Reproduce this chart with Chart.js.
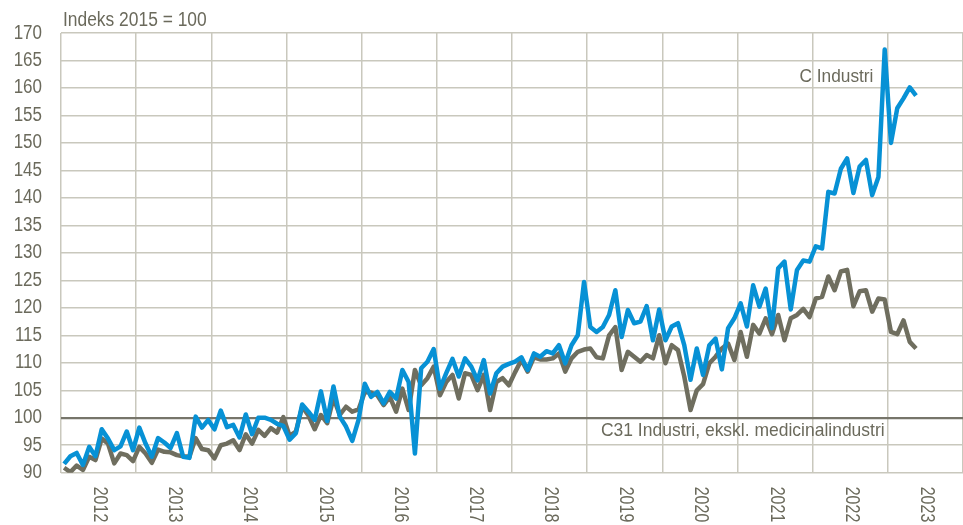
<!DOCTYPE html>
<html lang="da">
<head>
    <meta charset="UTF-8">
    <title>Indeks 2015 = 100</title>
    <style>
        html, body { margin: 0; padding: 0; background: #ffffff; }
        #chart { display: block; }
    </style>
</head>
<body>
    <canvas id="chart" width="963" height="525"></canvas>

    <script src="https://cdn.jsdelivr.net/npm/chart.js"></script>
    <script>
        // Months since Jan 2012 (one point per month)
        const years = ['2012', '2013', '2014', '2015', '2016', '2017', '2018', '2019', '2020', '2021', '2022', '2023'];
        const yTicks = [90, 95, 100, 105, 110, 115, 120, 125, 130, 135, 140, 145, 150, 155, 160, 165, 170];

        // C Industri
        const cIndustri = [
            91.6, 93.0, 93.6, 91.4, 94.7, 93.0, 97.9, 96.2, 94.1, 94.8, 97.5, 94.1,
            98.2, 95.3, 92.9, 96.3, 95.5, 94.5, 97.2, 92.9, 92.7, 100.2, 98.2, 99.6,
            97.9, 101.3, 98.3, 98.7, 96.4, 100.6, 97.0, 100.0, 100.0, 99.6, 98.9, 98.5,
            96.0, 97.2, 102.4, 101.1, 99.6, 104.8, 99.4, 105.7, 100.2, 98.4, 95.8, 99.6,
            106.2, 103.8, 104.7, 102.6, 104.7, 103.5, 108.7, 106.5, 93.5, 109.0, 110.2, 112.5,
            105.3, 108.1, 110.7, 107.5, 110.8, 109.3, 106.8, 110.5, 104.4, 108.1, 109.3, 109.8,
            110.2, 111.0, 108.7, 111.7, 111.1, 112.1, 111.7, 113.2, 109.9, 113.2, 115.0, 124.7,
            116.5, 115.6, 116.5, 118.7, 123.2, 114.7, 119.6, 117.2, 117.5, 120.3, 114.1, 119.7,
            114.1, 116.6, 117.2, 113.2, 106.9, 112.6, 107.8, 113.2, 114.4, 108.8, 116.3, 118.1,
            120.8, 116.6, 124.1, 120.2, 123.5, 116.3, 127.2, 128.4, 119.7, 126.9, 128.6, 128.4,
            131.2, 130.8, 141.1, 140.8, 145.3, 147.2, 140.9, 145.7, 146.9, 140.5, 143.8, 167.0,
            150.0, 156.3, 158.1, 160.1, 158.6
        ];

        // C31 Industri, ekskl. medicinalindustri
        const c31Industri = [
            90.9, 90.1, 91.3, 90.5, 92.9, 92.3, 96.2, 95.3, 91.7, 93.5, 93.2, 92.1,
            94.7, 93.5, 91.8, 94.2, 93.8, 93.7, 93.2, 93.0, 92.9, 96.3, 94.3, 94.1,
            92.6, 95.0, 95.3, 95.9, 94.1, 97.0, 95.3, 97.8, 96.7, 98.1, 97.3, 100.1,
            96.7, 97.5, 102.0, 100.4, 97.9, 100.5, 99.0, 103.6, 100.5, 102.0, 101.1, 101.5,
            104.7, 104.6, 104.1, 102.3, 103.8, 101.1, 105.3, 101.4, 108.7, 105.9, 107.2, 109.3,
            104.1, 106.5, 107.8, 103.5, 108.1, 107.8, 105.0, 107.8, 101.4, 106.5, 107.2, 105.9,
            108.3, 110.5, 108.4, 111.0, 110.6, 110.6, 110.8, 111.7, 108.4, 110.8, 112.0, 112.4,
            112.6, 111.0, 110.8, 115.0, 116.5, 108.7, 112.0, 111.1, 110.2, 111.4, 110.8, 115.0,
            109.9, 113.2, 112.3, 107.5, 101.4, 105.0, 106.1, 109.9, 111.1, 112.6, 113.5, 110.5,
            115.6, 111.1, 116.9, 115.3, 118.1, 115.2, 118.7, 114.1, 118.1, 118.7, 119.8, 118.3,
            121.7, 122.0, 125.7, 123.2, 126.6, 126.9, 120.3, 123.0, 123.2, 119.3, 121.7, 121.5,
            115.6, 115.2, 117.7, 113.8, 112.6
        ];

        const toPoints = arr => arr.map((v, i) => ({ x: i, y: v }));

        const FONT = '"Liberation Sans", Arial, sans-serif';
        const TEXT = '#6b6a5c';

        // narrow text: the original uses a condensed face
        function narrowText(ctx, text, x, y, opts) {
            ctx.save();
            ctx.translate(x, y);
            if (opts.rotate) ctx.rotate(opts.rotate);
            ctx.scale(opts.squeeze, 1);
            ctx.font = opts.size + 'px ' + FONT;
            ctx.textAlign = opts.align;
            ctx.textBaseline = opts.baseline;
            ctx.fillText(text, 0, 0);
            ctx.restore();
        }

        // axis labels, title and line labels
        const textPlugin = {
            id: 'texts',
            afterDraw(chart) {
                const ctx = chart.ctx;
                const x = chart.scales.x;
                const y = chart.scales.y;
                ctx.save();
                ctx.fillStyle = TEXT;

                // y ticks
                y.ticks.forEach(t => {
                    narrowText(ctx, String(t.value), chart.chartArea.left - 19, y.getPixelForValue(t.value),
                        { size: 20, squeeze: 0.85, align: 'right', baseline: 'middle' });
                });

                // years, rotated to read downwards
                years.forEach((yr, k) => {
                    const px = x.getPixelForValue(k * 12 + 5.5);
                    narrowText(ctx, yr, px + 1, chart.chartArea.bottom + 14,
                        { size: 20, squeeze: 0.8, align: 'left', baseline: 'middle', rotate: Math.PI / 2 });
                });

                // title
                narrowText(ctx, 'Indeks 2015 = 100', 63, 26,
                    { size: 20, squeeze: 0.87, align: 'left', baseline: 'alphabetic' });

                // series labels
                narrowText(ctx, 'C Industri', x.getPixelForValue(129.2), y.getPixelForValue(161.1),
                    { size: 19, squeeze: 0.91, align: 'right', baseline: 'alphabetic' });
                narrowText(ctx, 'C31 Industri, ekskl. medicinalindustri', x.getPixelForValue(85.7), y.getPixelForValue(96.7),
                    { size: 19, squeeze: 0.92, align: 'left', baseline: 'alphabetic' });
                ctx.restore();
            }
        };

        new Chart(document.getElementById('chart'), {
            type: 'line',
            data: {
                datasets: [{
                    label: 'C Industri',
                    data: toPoints(cIndustri),
                    borderColor: '#0791d5',
                    borderWidth: 4.5,
                    pointRadius: 0,
                    borderJoinStyle: 'round',
                    fill: false
                }, {
                    label: 'C31 Industri, ekskl. medicinalindustri',
                    data: toPoints(c31Industri),
                    borderColor: '#6f6e5f',
                    borderWidth: 4.5,
                    pointRadius: 0,
                    borderJoinStyle: 'round',
                    fill: false
                }]
            },
            options: {
                responsive: false,
                animation: false,
                layout: { padding: { top: 33, right: 0, left: 0, bottom: 0 } },
                plugins: {
                    legend: { display: false },
                    tooltip: { enabled: false }
                },
                scales: {
                    x: {
                        type: 'linear',
                        min: -0.5,
                        max: 143.5,
                        afterBuildTicks: s => {
                            s.ticks = years.concat(['']).map((_, k) => ({ value: k * 12 - 0.5 }));
                        },
                        afterFit: s => { s.height = 52.3; },
                        ticks: { display: false },
                        grid: { color: '#c9c8bd', lineWidth: 1.5, drawTicks: false },
                        border: { display: false }
                    },
                    y: {
                        min: 90,
                        max: 170,
                        afterBuildTicks: s => {
                            s.ticks = yTicks.map(v => ({ value: v }));
                        },
                        afterFit: s => { s.width = 61; },
                        ticks: { display: false },
                        grid: {
                            drawTicks: false,
                            color: c => c.tick && c.tick.value === 100 ? '#76756a' : '#c9c8bd',
                            lineWidth: c => c.tick && c.tick.value === 100 ? 2.2 : 1.5
                        },
                        border: { display: false }
                    }
                }
            },
            plugins: [textPlugin]
        });
    </script>
</body>
</html>
